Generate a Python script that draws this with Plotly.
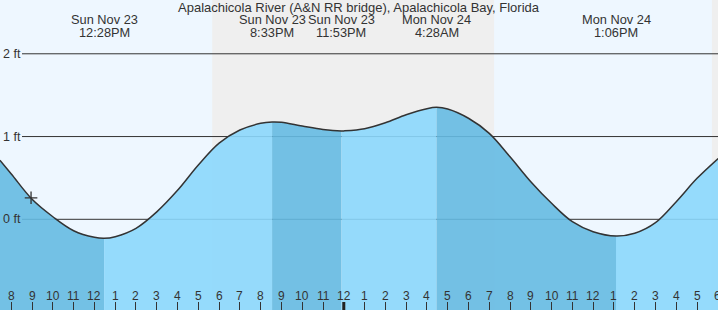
import plotly.graph_objects as go
import pandas as pd

# ---------------- data ----------------
title_text = "Apalachicola River (A&N RR bridge), Apalachicola Bay, Florida"

# water level readings (ft)
curve_times = [
    "2025-11-23 07:27", "2025-11-23 08:00", "2025-11-23 09:00", "2025-11-23 10:00",
    "2025-11-23 11:00", "2025-11-23 12:00", "2025-11-23 13:00", "2025-11-23 14:00",
    "2025-11-23 15:00", "2025-11-23 16:00", "2025-11-23 17:00", "2025-11-23 18:00",
    "2025-11-23 19:00", "2025-11-23 20:00", "2025-11-23 21:00", "2025-11-23 22:00",
    "2025-11-23 23:00", "2025-11-24 00:00", "2025-11-24 01:00", "2025-11-24 02:00",
    "2025-11-24 03:00", "2025-11-24 04:00", "2025-11-24 05:00", "2025-11-24 06:00",
    "2025-11-24 07:00", "2025-11-24 08:00", "2025-11-24 09:00", "2025-11-24 10:00",
    "2025-11-24 11:00", "2025-11-24 12:00", "2025-11-24 14:00", "2025-11-24 15:00",
    "2025-11-24 16:00", "2025-11-24 17:00", "2025-11-24 18:01",
]
curve_ft = [
    0.713, 0.547, 0.242, 0.031,
    -0.138, -0.218, -0.210, -0.109,
    0.090, 0.350, 0.656, 0.920,
    1.079, 1.160, 1.172, 1.127,
    1.085, 1.068, 1.095, 1.167,
    1.264, 1.337, 1.333, 1.221,
    1.039, 0.756, 0.454, 0.193,
    -0.029, -0.150, -0.169, -0.041,
    0.213, 0.495, 0.735,
]

# high / low tide events
event_times = ["2025-11-23 12:28", "2025-11-23 20:33", "2025-11-23 23:53",
               "2025-11-24 04:28", "2025-11-24 13:06"]
event_ft = [-0.230, 1.176, 1.067, 1.353, -0.202]
event_day_labels = ["Sun Nov 23", "Sun Nov 23", "Sun Nov 23", "Mon Nov 24", "Mon Nov 24"]
event_time_labels = ["12:28PM", "8:33PM", "11:53PM", "4:28AM", "1:06PM"]

# night periods (sunset -> sunrise)
night_start = ["2025-11-23 17:40", "2025-11-24 17:43"]
night_end = ["2025-11-24 07:14", "2025-11-24 18:01"]

# current time marker
now_time = "2025-11-23 08:57"
now_ft = 0.26

# axis ticks
tick_times = list(pd.date_range("2025-11-23 08:00", "2025-11-24 18:00", freq="h"))
tick_labels = ["8", "9", "10", "11", "12", "1", "2", "3", "4", "5", "6", "7",
               "8", "9", "10", "11", "12", "1", "2", "3", "4", "5", "6", "7",
               "8", "9", "10", "11", "12", "1", "2", "3", "4", "5", "6"]
midnight = "2025-11-24 00:00"
y_ticks = [0, 1, 2]
y_tick_labels = ["0 ft", "1 ft", "2 ft"]

x_range = ["2025-11-23 07:27:20", "2025-11-24 18:00:30"]
y_range = [-1.096, 2.650]

# ---------------- styles ----------------
W, H = 718, 310
FONT = "Liberation Sans, Arial, sans-serif"
TXT = "#333333"
DAY_BG = "#EEF7FF"
NIGHT_BG = "#EFEFEF"
RISE_FILL = "rgba(139,215,252,0.9)"
FALL_FILL = "rgba(101,186,226,0.9)"

# merge readings and events
df = pd.DataFrame({"t": pd.to_datetime(curve_times + event_times),
                   "v": curve_ft + event_ft}).sort_values("t").reset_index(drop=True)
bounds = [df["t"].iloc[0]] + list(pd.to_datetime(event_times)) + [df["t"].iloc[-1]]

fig = go.Figure()

# water fill segments: falling tide darker, rising tide lighter
for a, b in zip(bounds[:-1], bounds[1:]):
    seg = df[(df["t"] >= a) & (df["t"] <= b)]
    rising = seg["v"].iloc[-1] > seg["v"].iloc[0]
    fig.add_trace(go.Scatter(x=seg["t"], y=[y_range[0]] * len(seg), mode="lines",
                             line=dict(width=0), hoverinfo="skip", showlegend=False))
    fig.add_trace(go.Scatter(x=seg["t"], y=seg["v"], mode="lines",
                             line=dict(width=0, shape="spline"),
                             fill="tonexty", fillcolor=RISE_FILL if rising else FALL_FILL,
                             hoverinfo="skip", showlegend=False))

# outline of the curve
fig.add_trace(go.Scatter(x=df["t"], y=df["v"], mode="lines",
                         line=dict(color="#333333", width=1.5, shape="spline"),
                         hoverinfo="skip", showlegend=False))

# current time marker
fig.add_trace(go.Scatter(x=[now_time], y=[now_ft], mode="markers",
                         marker=dict(symbol="cross-thin", size=9,
                                     line=dict(color="#333333", width=1.3)),
                         hoverinfo="skip", showlegend=False))

shapes = []
for s, e in zip(night_start, night_end):
    shapes.append(dict(type="rect", xref="x", yref="paper", x0=s, x1=e, y0=0, y1=1,
                       fillcolor=NIGHT_BG, line=dict(width=0), layer="below"))
for v in y_ticks:
    shapes.append(dict(type="line", xref="paper", yref="y", x0=22 / W, x1=1, y0=v, y1=v,
                       line=dict(color="#333333", width=1), layer="below"))
shapes.append(dict(type="line", xref="x", yref="paper", x0=midnight, x1=midnight,
                   y0=0, y1=8 / H, line=dict(color="#222222", width=3), layer="above"))

annotations = [dict(text=title_text, xref="paper", yref="paper", x=0.5, y=1 - 7.5 / H,
                    xanchor="center", yanchor="middle", showarrow=False,
                    font=dict(family=FONT, size=13, color=TXT))]
for t, d, tm in zip(event_times, event_day_labels, event_time_labels):
    annotations.append(dict(text=d, x=t, xref="x", yref="paper", y=1 - 19.5 / H,
                            xanchor="center", yanchor="middle", showarrow=False,
                            font=dict(family=FONT, size=12.8, color=TXT)))
    annotations.append(dict(text=tm, x=t, xref="x", yref="paper", y=1 - 32.5 / H,
                            xanchor="center", yanchor="middle", showarrow=False,
                            font=dict(family=FONT, size=12.8, color=TXT)))
for v, lab in zip(y_ticks, y_tick_labels):
    annotations.append(dict(text=lab, x=0, xref="paper", y=v, yref="y", xshift=1,
                            xanchor="left", yanchor="middle", showarrow=False,
                            font=dict(family=FONT, size=12.5, color=TXT)))
for t, lab in zip(tick_times, tick_labels):
    annotations.append(dict(text=lab, x=t, xref="x", yref="paper", y=1 - 296 / H,
                            xanchor="center", yanchor="middle", showarrow=False,
                            font=dict(family=FONT, size=12, color=TXT)))

fig.update_layout(
    width=W, height=H, margin=dict(l=0, r=0, t=0, b=0),
    paper_bgcolor=DAY_BG, plot_bgcolor=DAY_BG,
    showlegend=False, shapes=shapes, annotations=annotations,
    xaxis=dict(type="date", range=x_range, showgrid=False, zeroline=False,
               showline=False, showticklabels=False, tickmode="array",
               tickvals=tick_times, ticks="inside", ticklen=8, tickwidth=1,
               tickcolor="#333333", fixedrange=True),
    yaxis=dict(range=y_range, showgrid=False, zeroline=False, showline=False,
               showticklabels=False, ticks="", fixedrange=True),
)

fig.write_html("out.html")
